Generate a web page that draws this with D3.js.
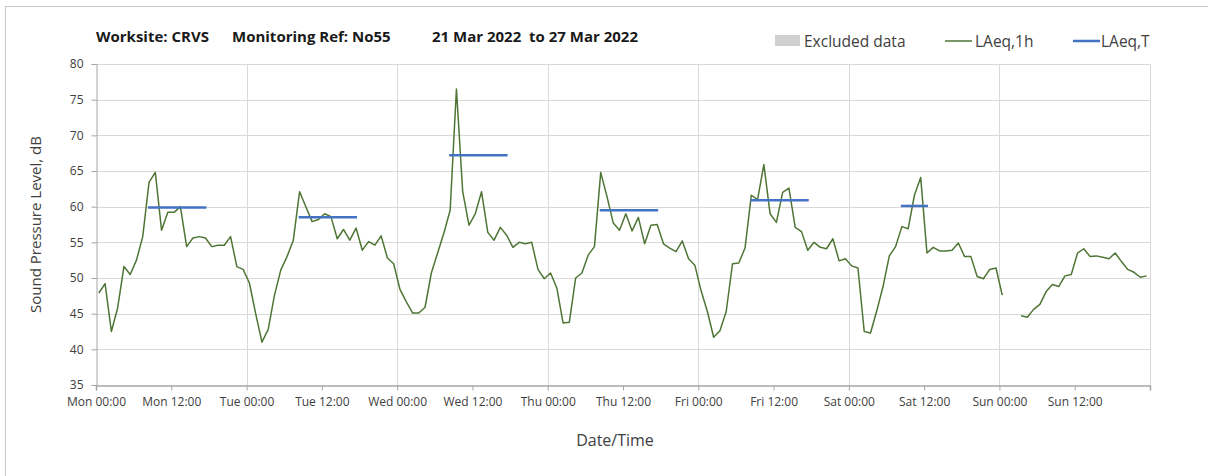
<!DOCTYPE html>
<html>
<head>
<meta charset="utf-8">
<script src="https://cdn.jsdelivr.net/npm/d3@7"></script>
<style>
    body { margin: 0; background: #fff; }
    text { font-family: "Open Sans", "Noto Sans", sans-serif; }
</style>
</head>
<body>
<div id="chart"></div>
<script>
// hourly LAeq,1h values, one array per day (null = excluded)
var mon = [47.9, 49.2, 42.5, 45.8, 51.6, 50.5, 52.5, 55.8, 63.4, 64.8, 56.7, 59.2,
           59.2, 60.0, 54.4, 55.6, 55.8, 55.6, 54.4, 54.6, 54.6, 55.8, 51.6, 51.2];
var tue = [49.3, 45.0, 41.0, 42.8, 47.6, 51.1, 53.0, 55.3, 62.1, 60.0, 57.9, 58.2,
           59.0, 58.6, 55.5, 56.8, 55.3, 57.0, 53.9, 55.1, 54.6, 55.9, 52.8, 52.0];
var wed = [48.4, 46.7, 45.1, 45.1, 45.9, 50.7, 53.5, 56.3, 59.5, 76.5, 62.1, 57.4,
           59.0, 62.1, 56.4, 55.3, 57.1, 56.0, 54.3, 55.0, 54.8, 55.0, 51.2, 49.9];
var thu = [50.7, 48.6, 43.7, 43.8, 50.0, 50.7, 53.2, 54.4, 64.8, 61.4, 57.7, 56.7,
           59.0, 56.6, 58.5, 54.8, 57.4, 57.5, 54.8, 54.2, 53.7, 55.2, 52.7, 51.8];
var fri = [48.2, 45.3, 41.7, 42.6, 45.3, 52.0, 52.1, 54.2, 61.6, 61.0, 65.9, 59.0,
           57.8, 62.0, 62.6, 57.1, 56.5, 53.9, 55.0, 54.3, 54.1, 55.5, 52.4, 52.7];
var sat = [51.7, 51.4, 42.5, 42.3, 45.4, 48.8, 53.1, 54.4, 57.2, 56.9, 61.6, 64.1,
           53.5, 54.3, 53.8, 53.8, 53.9, 54.9, 53.0, 53.0, 50.2, 49.9, 51.2, 51.4];
var sun = [47.6, null, null, 44.7, 44.5, 45.6, 46.3, 48.1, 49.1, 48.8, 50.3, 50.5,
           53.5, 54.1, 53.0, 53.1, 52.9, 52.7, 53.5, 52.3, 51.2, 50.8, 50.1, 50.3];

// LAeq,T daytime periods (hours from Mon 00:00)
var periodStart = [8, 32, 56, 80, 104, 128];
var periodEnd = [17, 41, 65, 89, 113, 132];
var periodValue = [59.9, 58.5, 67.2, 59.5, 60.9, 60.1];

var dayNames = ["Mon", "Tue", "Wed", "Thu", "Fri", "Sat", "Sun"];
var yTicks = [35, 40, 45, 50, 55, 60, 65, 70, 75, 80];
var titleParts = ["Worksite: CRVS", "Monitoring Ref: No55", "21 Mar 2022  to 27 Mar 2022"];

var hourly = [].concat(mon, tue, wed, thu, fri, sat, sun)
    .map((v, i) => ({ hour: i, value: v }));

var width = 1208, height = 476;
var margin = { top: 64, right: 58, bottom: 91, left: 96 };
var pointOffset = 0.45;

var x = d3.scaleLinear()
    .domain([0, 168])
    .range([margin.left, width - margin.right]);

var y = d3.scaleLinear()
    .domain([35, 80])
    .range([height - margin.bottom, margin.top]);

const svg = d3.select("#chart").append("svg")
    .attr("width", width)
    .attr("height", height);

// outer chart border
svg.append("rect")
    .attr("x", 5.5).attr("y", 6.5)
    .attr("width", width + 20).attr("height", height + 20)
    .attr("fill", "none")
    .attr("stroke", "#c8c8c8");

// gridlines
svg.append("g")
    .attr("stroke", "#d9d9d9")
    .selectAll("line")
    .data(yTicks.slice(1))
    .join("line")
    .attr("x1", x(0)).attr("x2", x(168))
    .attr("y1", d => Math.round(y(d)) + 0.5)
    .attr("y2", d => Math.round(y(d)) + 0.5);

svg.append("g")
    .attr("stroke", "#d9d9d9")
    .selectAll("line")
    .data(d3.range(24, 169, 24))
    .join("line")
    .attr("x1", d => Math.round(x(d)) + 0.5)
    .attr("x2", d => Math.round(x(d)) + 0.5)
    .attr("y1", y(80)).attr("y2", y(35));

// axes
var xAxis = g => g
    .attr("transform", `translate(0,${Math.round(y(35)) + 0.5})`)
    .call(d3.axisBottom(x)
        .tickValues(d3.range(0, 169, 12))
        .tickSize(5)
        .tickFormat(d => d >= 168 ? "" : dayNames[Math.floor(d / 24)] + (d % 24 == 0 ? " 00:00" : " 12:00")))
    .call(g => g.selectAll("line, path").attr("stroke", "#a6a6a6"))
    .call(g => g.select(".domain").attr("stroke-width", 1.5))
    .call(g => g.selectAll("text")
        .attr("fill", "#404040")
        .attr("font-size", 12)
        .attr("dy", "1.05em"));

var yAxis = g => g
    .attr("transform", `translate(${Math.round(x(0)) + 0.5},0)`)
    .call(d3.axisLeft(y).tickValues(yTicks).tickSize(5).tickPadding(8))
    .call(g => g.selectAll("line, path").attr("stroke", "#a6a6a6"))
    .call(g => g.selectAll("text")
        .attr("fill", "#404040")
        .attr("font-size", 12));

svg.append("g").call(xAxis);
svg.append("g").call(yAxis);

// LAeq,1h line
var line = d3.line()
    .defined(d => d.value != null)
    .x(d => x(d.hour + pointOffset))
    .y(d => y(d.value));

svg.append("path")
    .datum(hourly)
    .attr("fill", "none")
    .attr("stroke", "#4f7535")
    .attr("stroke-width", 1.5)
    .attr("stroke-linejoin", "round")
    .attr("d", line);

// LAeq,T periods
svg.append("g")
    .attr("stroke", "#4472c4")
    .attr("stroke-width", 2.5)
    .selectAll("line")
    .data(periodValue)
    .join("line")
    .attr("x1", (d, i) => x(periodStart[i] + pointOffset) - 1)
    .attr("x2", (d, i) => x(periodEnd[i] + pointOffset) + 1)
    .attr("y1", d => y(d))
    .attr("y2", d => y(d));

// title
svg.append("g")
    .attr("font-size", 15)
    .attr("font-weight", "bold")
    .attr("fill", "#1a1a1a")
    .selectAll("text")
    .data(titleParts)
    .join("text")
    .attr("x", (d, i) => [96, 232, 432][i])
    .attr("y", 42)
    .attr("xml:space", "preserve")
    .text(d => d);

// legend
var legend = svg.append("g").attr("font-size", 15.5).attr("fill", "#404040");
legend.append("rect")
    .attr("x", 775).attr("y", 35).attr("width", 25).attr("height", 11)
    .attr("fill", "#d0d0d0");
legend.append("text").attr("x", 804).attr("y", 46.5).text("Excluded data");
legend.append("line")
    .attr("x1", 945).attr("x2", 972).attr("y1", 41).attr("y2", 41)
    .attr("stroke", "#4f7535").attr("stroke-width", 1.5);
legend.append("text").attr("x", 975).attr("y", 46.5).text("LAeq,1h");
legend.append("line")
    .attr("x1", 1073).attr("x2", 1100).attr("y1", 41).attr("y2", 41)
    .attr("stroke", "#4472c4").attr("stroke-width", 2.5);
legend.append("text").attr("x", 1101).attr("y", 46.5).text("LAeq,T");

// axis titles
svg.append("text")
    .attr("x", 615).attr("y", 446)
    .attr("text-anchor", "middle")
    .attr("font-size", 16)
    .attr("fill", "#404040")
    .text("Date/Time");

svg.append("text")
    .attr("transform", `translate(41,${(y(35) + y(80)) / 2}) rotate(-90)`)
    .attr("text-anchor", "middle")
    .attr("font-size", 15)
    .attr("fill", "#404040")
    .text("Sound Pressure Level, dB");
</script>
</body>
</html>
